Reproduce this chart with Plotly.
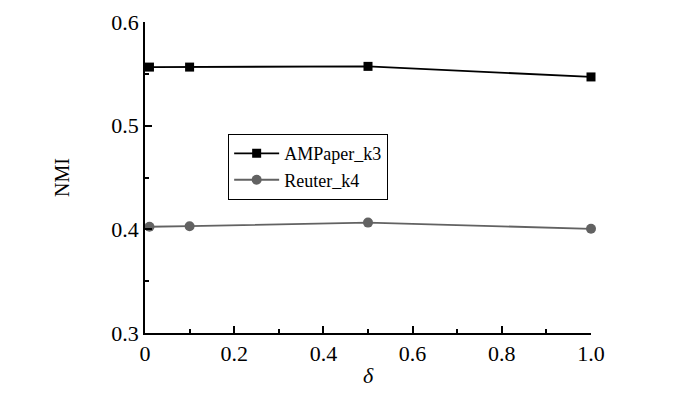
import plotly.graph_objects as go

delta = [0.01, 0.1, 0.5, 1.0]
ampaper_k3 = [0.5565, 0.5565, 0.5572, 0.547]
reuter_k4 = [0.4025, 0.403, 0.4065, 0.4005]
x_ticks = [0, 0.2, 0.4, 0.6, 0.8, 1.0]
x_labels = ["0", "0.2", "0.4", "0.6", "0.8", "1.0"]
y_ticks = [0.3, 0.4, 0.5, 0.6]
y_labels = ["0.3", "0.4", "0.5", "0.6"]

font = "Liberation Serif"

fig = go.Figure()
fig.add_trace(go.Scatter(x=delta, y=ampaper_k3, mode="lines+markers", name="AMPaper_k3",
                         line=dict(color="black", width=1.8),
                         marker=dict(symbol="square", size=9, color="black"),
                         cliponaxis=False))
fig.add_trace(go.Scatter(x=delta, y=reuter_k4, mode="lines+markers", name="Reuter_k4",
                         line=dict(color="#626262", width=1.8),
                         marker=dict(symbol="circle", size=10, color="#626262"),
                         cliponaxis=False))

# body has an 8px default margin in the page, so the figure is 692x387
fig.update_layout(
    width=692, height=387,
    margin=dict(l=137, r=109, t=14, b=62, autoexpand=False),
    paper_bgcolor="white", plot_bgcolor="white",
    font=dict(family=font, color="black"),
    showlegend=True,
    legend=dict(x=0.186, y=0.64, xanchor="left", yanchor="top",
                bordercolor="black", borderwidth=1.2, bgcolor="white",
                font=dict(size=18, family=font), tracegroupgap=0,
                itemwidth=45),
)
fig.update_xaxes(range=[0, 1.0], tickvals=x_ticks, ticktext=x_labels,
                 showline=True, linecolor="black", linewidth=1.8,
                 ticks="inside", ticklen=7, tickwidth=1.5, tickcolor="black",
                 minor=dict(dtick=0.1, ticks="inside", ticklen=4, tickwidth=1.5, tickcolor="black"),
                 showgrid=False, zeroline=False, automargin=False,
                 tickfont=dict(size=22, family=font),
                 title=dict(text="<i>δ</i>", font=dict(size=22, family=font), standoff=2))
fig.update_yaxes(range=[0.3, 0.6], tickvals=y_ticks, ticktext=y_labels,
                 showline=True, linecolor="black", linewidth=1.8,
                 ticks="inside", ticklen=7, tickwidth=1.5, tickcolor="black",
                 minor=dict(dtick=0.05, ticks="inside", ticklen=4, tickwidth=1.5, tickcolor="black"),
                 showgrid=False, zeroline=False, automargin=False,
                 tickfont=dict(size=22, family=font),
                 title=dict(text="NMI", font=dict(size=20, family=font), standoff=36))

fig.write_html("out.html")
